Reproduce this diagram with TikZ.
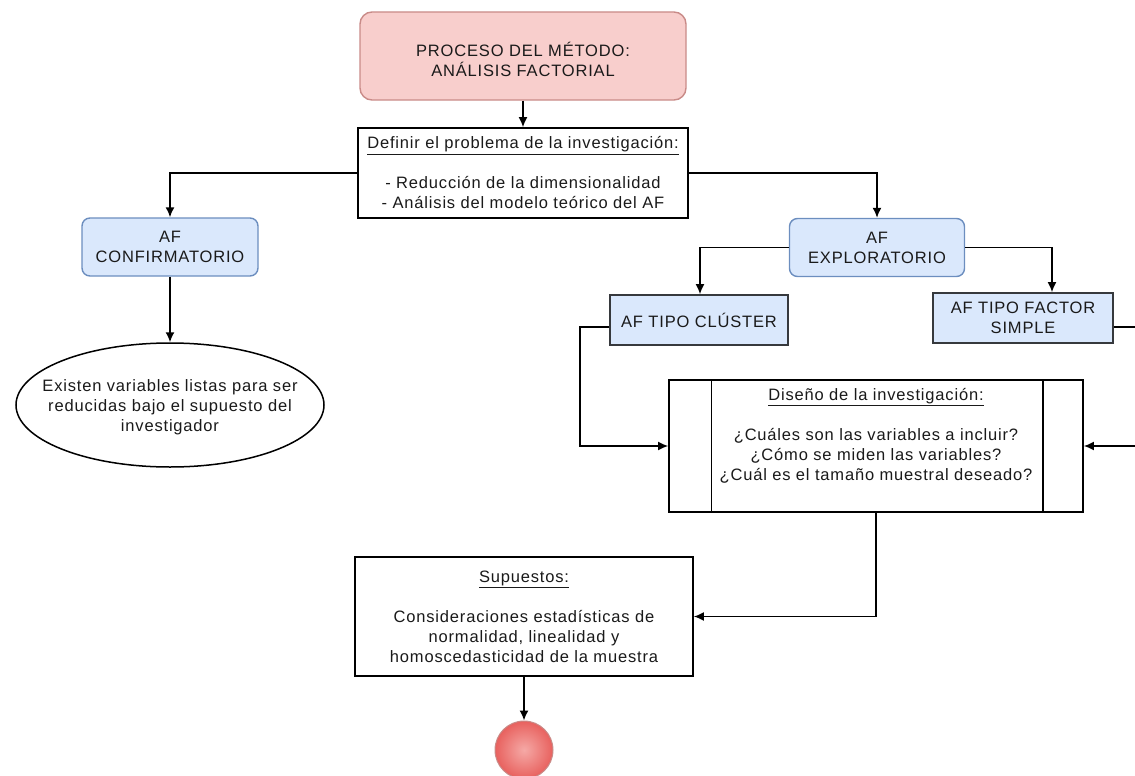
\documentclass[tikz,border=0pt]{standalone}
\usepackage{fontspec}
\setmainfont{Liberation Sans}[LetterSpace=5]
\usetikzlibrary{arrows.meta,shapes.geometric,calc}
\definecolor{pinkfill}{HTML}{F8CECC}
\definecolor{pinkline}{HTML}{C98B88}
\definecolor{bluefill}{HTML}{DAE8FC}
\definecolor{blueline}{HTML}{6C8EBF}
\definecolor{dkline}{HTML}{36393D}
\definecolor{txt}{HTML}{1A1A1A}
\definecolor{redin}{HTML}{F5A9A6}
\definecolor{redout}{HTML}{E8615E}
\begin{document}
\begin{tikzpicture}[x=1pt,y=-1pt,
  font=\fontsize{16.5}{20}\selectfont, text=txt,
  every node/.style={align=center, inner sep=0pt},
  arr/.style={-{Latex[length=10pt,width=9pt]}, line width=1.6pt, draw=black},
  ln/.style={line width=1.6pt, draw=black},
  topbox/.style={draw=pinkline, fill=pinkfill, line width=1.4pt, rounded corners=12pt},
  rbox/.style={draw=blueline, fill=bluefill, line width=1.4pt, rounded corners=8pt},
  sbox/.style={draw=dkline, fill=bluefill, line width=1.7pt},
  wbox/.style={draw=black, fill=white, line width=1.7pt},
  oval/.style={ellipse, draw=black, fill=white, line width=1.5pt},
  endc/.style={circle, draw=pinkline, line width=1pt, shading=radial, inner color=redin, outer color=redout}
]
\useasboundingbox (0,0) rectangle (1135,776);

\node[topbox, minimum width=326, minimum height=88] (top) at (523,56) {};
\node (toptext) at (523,59) {PROCESO DEL MÉTODO:\\ANÁLISIS FACTORIAL};

\node[wbox, minimum width=330, minimum height=90] (def) at (523,173) {};
\node (deftext) at (523,173)
  {\underline{Definir el problema de la investigación:}\\ \\- Reducción de la dimensionalidad\\- Análisis del modelo teórico del AF};

\node[rbox, minimum width=176, minimum height=58] (conf) at (170,247) {AF\\CONFIRMATORIO};
\node[oval, minimum width=308, minimum height=124] (ell) at (170,405) {};
\node (elltext) at (170,407)
  {Existen variables listas para ser\\reducidas bajo el supuesto del\\investigador};

\node[rbox, minimum width=175, minimum height=58] (expl) at (877,247.5) {AF\\EXPLORATORIO};
\node[sbox, minimum width=178, minimum height=50] (clu) at (699,320) {AF TIPO CLÚSTER};
\node[sbox, minimum width=180, minimum height=50] (fs) at (1023,318) {AF TIPO FACTOR\\SIMPLE};

\node[wbox, minimum width=414, minimum height=132] (dis) at (876,446) {};
\draw[line width=1.3pt] ($(dis.north west)+(43,0)$) -- ($(dis.south west)+(43,0)$);
\draw[line width=1.3pt] ($(dis.north east)+(-41,0)$) -- ($(dis.south east)+(-41,0)$);
\node (distext) at (876,436)
  {\underline{Diseño de la investigación:}\\ \\¿Cuáles son las variables a incluir?\\¿Cómo se miden las variables?\\¿Cuál es el tamaño muestral deseado?};

\node[wbox, minimum width=338, minimum height=119] (sup) at (524,616.5) {};
\node (suptext) at (524,616.5)
  {\underline{Supuestos:}\\ \\Consideraciones estadísticas de\\normalidad, linealidad y\\homoscedasticidad de la muestra};

\node[endc, minimum size=58] (fin) at (524,750) {};

\coordinate (fsr) at (1137,327);
\coordinate (disr) at (1137,446);

\draw[arr] (top) -- (def);
\draw[arr] (def.west) -| (conf.north);
\draw[arr] (def.east) -| (expl.north);
\draw[arr] (conf.south) -- (ell.north);
\draw[arr] (expl.west) -| ([xshift=1pt]clu.north);
\draw[arr] (expl.east) -| ([xshift=29pt]fs.north);
\draw[arr] ([yshift=-7pt]clu.west) -- ++(-29,0) |- (dis.west);
\draw[ln] ([yshift=-9pt]fs.east) -- (fsr);
\draw[arr] (disr) -- (dis.east);
\draw[arr] (dis.south) |- (sup.east);
\draw[arr] (sup.south) -- (fin.north);
\end{tikzpicture}
\end{document}
